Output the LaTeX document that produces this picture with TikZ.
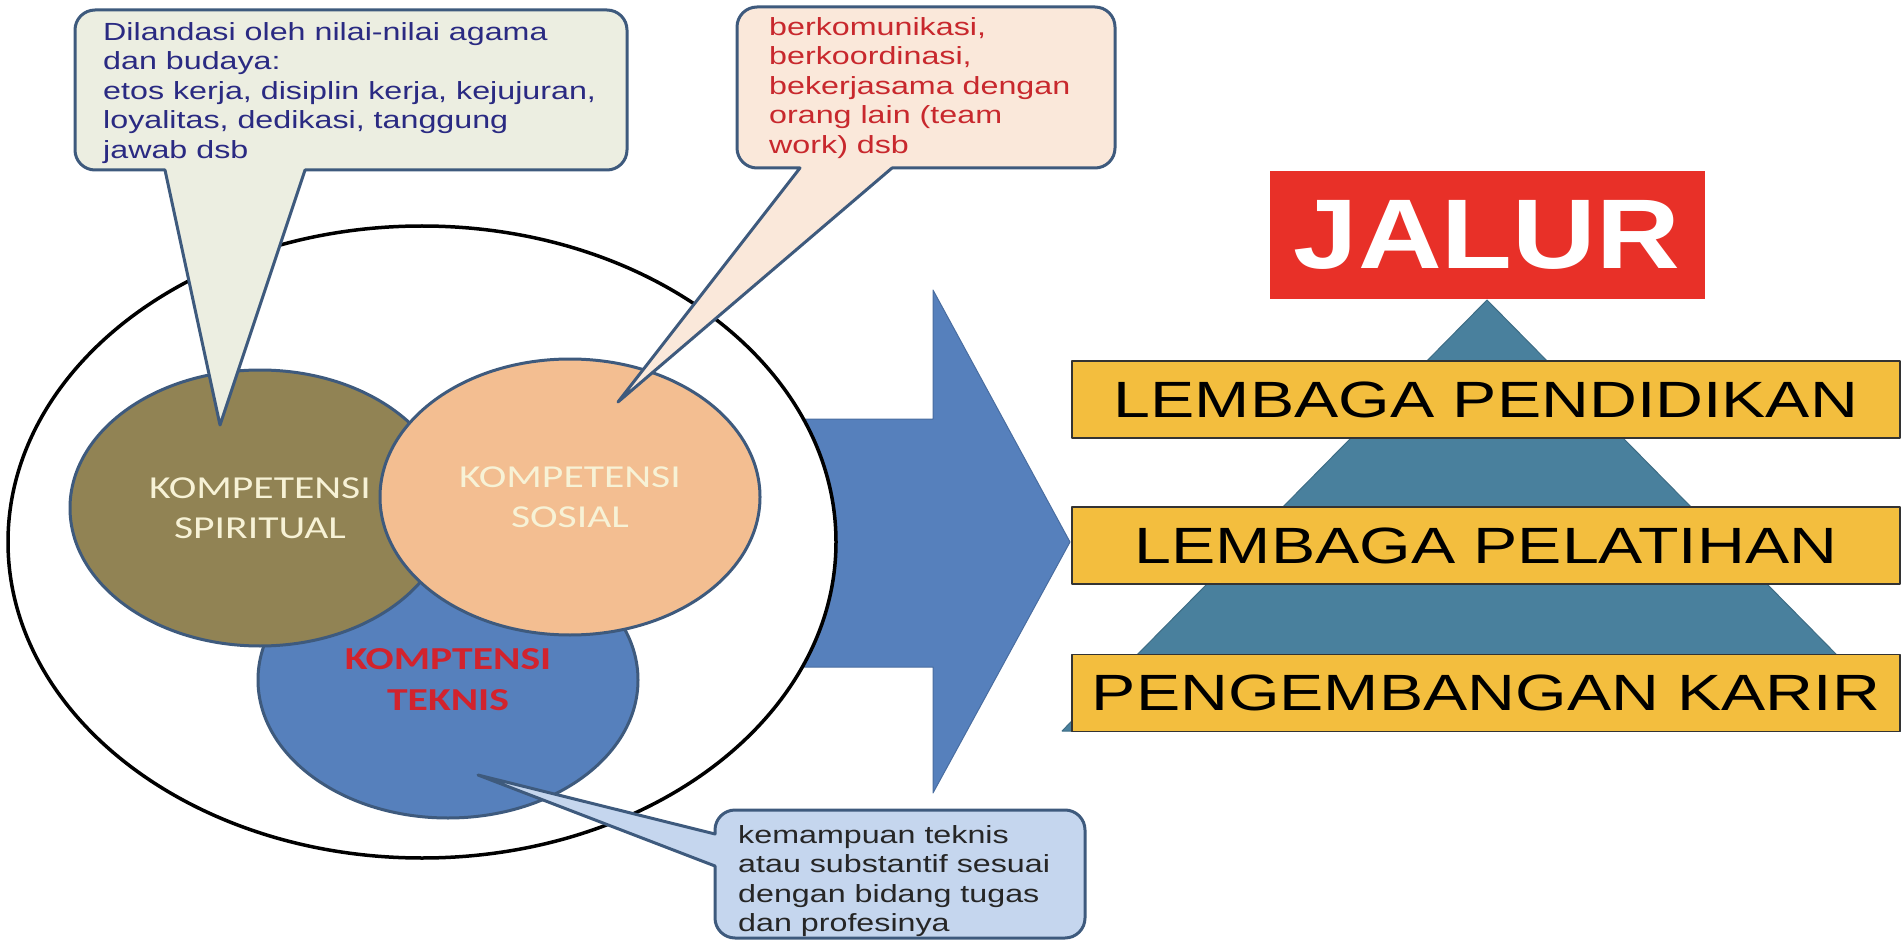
\documentclass[tikz,border=0pt]{standalone}
\usepackage{fontspec}
\usetikzlibrary{shapes.geometric}
\newfontfamily\notefont[FakeStretch=1.3]{Liberation Sans}
\newfontfamily\circlefont[FakeStretch=1.3]{Carlito}
\newfontfamily\jalurfont[FakeStretch=1.17]{Liberation Sans}
\definecolor{tepi}{RGB}{62,90,125}
\definecolor{hijaupucat}{RGB}{236,238,225}
\definecolor{birutua}{RGB}{42,42,130}
\definecolor{krem}{RGB}{250,232,218}
\definecolor{merahteks}{RGB}{200,40,45}
\definecolor{birupucat}{RGB}{197,214,238}
\definecolor{zaitun}{RGB}{145,131,84}
\definecolor{persik}{RGB}{243,190,145}
\definecolor{birusedang}{RGB}{86,128,188}
\definecolor{labelkrem}{RGB}{247,242,214}
\definecolor{merahlabel}{RGB}{210,35,45}
\definecolor{biruhijau}{RGB}{73,128,157}
\definecolor{kuning}{RGB}{243,190,62}
\definecolor{merahjalur}{RGB}{232,48,40}
\begin{document}
\begin{tikzpicture}[x=1pt,y=-1pt,line join=round,
	kompetensi/.style={ellipse,draw=tepi,line width=3pt,minimum width=380pt,minimum height=276pt,inner sep=0pt,align=center,font=\circlefont\fontsize{32}{40}\selectfont},
	balon/.style={draw=tepi,line width=3pt},
	isi/.style={anchor=north west,inner sep=0pt,align=left,font=\notefont\fontsize{24.8}{29.5}\selectfont},
	lembaga/.style={draw=black!80,line width=1.2pt,fill=kuning,minimum width=828pt,minimum height=77pt,inner sep=0pt,font=\notefont\fontsize{51}{60}\selectfont}]
	\useasboundingbox (0,0) rectangle (1901,941);
	% panah besar
	\draw[fill=birusedang,draw=birusedang!85!black,line width=1pt] (700,419)--(933,419)--(933,290)--(1070,542)--(933,793)--(933,667)--(700,667)--cycle;
	% lingkaran kompetensi
	\draw[fill=white,line width=3.5pt] (422,542) ellipse [x radius=414pt,y radius=316pt];
	\node[kompetensi,fill=birusedang,text=merahlabel,font=\circlefont\bfseries\fontsize{32}{41}\selectfont] (teknis) at (448,680) {KOMPTENSI\\TEKNIS};
	\node[kompetensi,fill=zaitun,text=labelkrem] (spiritual) at (260,508) {KOMPETENSI\\SPIRITUAL};
	\node[kompetensi,fill=persik,text=labelkrem] (sosial) at (570,497) {KOMPETENSI\\SOSIAL};
	% balon keterangan
	\coordinate (ujung1) at (220,425); \coordinate (ujung2) at (618,402); \coordinate (ujung3) at (478,775);
	\draw[balon,fill=hijaupucat] (305,170) [rounded corners=20pt]--(627,170)--(627,10)--(75,10)--(75,170) [sharp corners]--(165,170)--(ujung1)--cycle;
	\node[isi,text=birutua] (nilai) at (103,22) {Dilandasi oleh nilai-nilai agama\\dan budaya:\\etos kerja, disiplin kerja, kejujuran,\\loyalitas, dedikasi, tanggung\\jawab dsb};
	\draw[balon,fill=krem] (892,168) [rounded corners=20pt]--(1115,168)--(1115,7)--(737,7)--(737,168) [sharp corners]--(800,168)--(ujung2)--cycle;
	\node[isi,text=merahteks] (kerjasama) at (769,17) {berkomunikasi,\\berkoordinasi,\\bekerjasama dengan\\orang lain (team\\work) dsb};
	\draw[balon,fill=birupucat] (715,866) [rounded corners=20pt]--(715,938)--(1085,938)--(1085,810)--(715,810) [sharp corners]--(715,834)--(ujung3)--cycle;
	\node[isi,text=black!85] (kemampuan) at (738,825) {kemampuan teknis\\atau substantif sesuai\\dengan bidang tugas\\dan profesinya};
	% piramida jalur
	\draw[fill=biruhijau,draw=biruhijau!85!black,line width=1pt] (1487,300)--(1901,720)--(1901,731)--(1062,731)--cycle;
	\node[fill=merahjalur,minimum width=435pt,minimum height=128pt,inner sep=0pt,text=white,font=\jalurfont\bfseries\fontsize{99}{99}\selectfont] (jalur) at (1487,235) {JALUR};
	\node[lembaga] (pendidikan) at (1486,399.5) {LEMBAGA PENDIDIKAN};
	\node[lembaga] (pelatihan) at (1486,545.5) {LEMBAGA PELATIHAN};
	\node[lembaga] (karir) at (1486,693) {PENGEMBANGAN KARIR};
\end{tikzpicture}
\end{document}
